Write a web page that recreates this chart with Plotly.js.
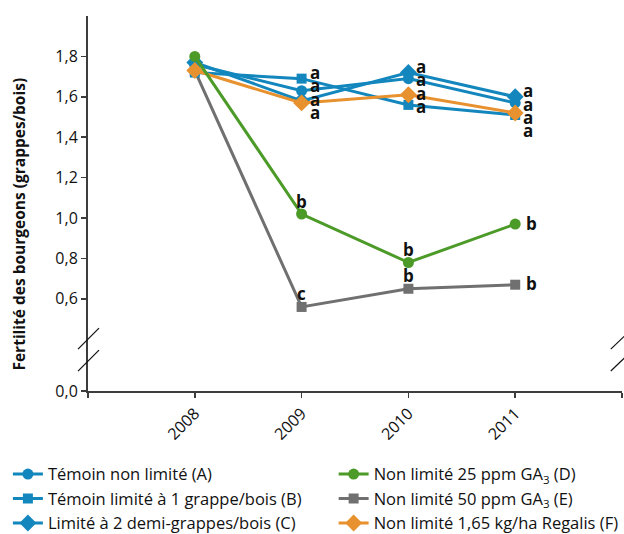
<!DOCTYPE html>
<html>
<head>
<meta charset="utf-8">
<script src="https://cdn.plot.ly/plotly-3.0.1.min.js"></script>
<style>html,body{margin:0;padding:0;background:#fff;}#chart{width:624px;height:534px;}</style>
</head>
<body>
<div id="chart"></div>
<script>
// ---- data ----
const years = [2008, 2009, 2010, 2011];
const seriesNames = [
  'Témoin non limité (A)',
  'Témoin limité à 1 grappe/bois (B)',
  'Limité à 2 demi-grappes/bois (C)',
  'Non limité 25 ppm GA<sub>3</sub> (D)',
  'Non limité 50 ppm GA<sub>3</sub> (E)',
  'Non limité 1,65 kg/ha Regalis (F)'
];
const valuesA = [1.76, 1.63, 1.69, 1.57];
const valuesB = [1.72, 1.69, 1.56, 1.51];
const valuesC = [1.77, 1.58, 1.72, 1.60];
const valuesD = [1.80, 1.02, 0.78, 0.97];
const valuesE = [1.73, 0.56, 0.65, 0.67];
const valuesF = [1.73, 1.57, 1.61, 1.52];
const lettersA = ['', 'a', 'a', 'a'];
const lettersB = ['', 'a', 'a', 'a'];
const lettersC = ['', 'a', 'a', 'a'];
const lettersD = ['', 'b', 'b', 'b'];
const lettersE = ['', 'c', 'b', 'b'];
const lettersF = ['', 'a', 'a', 'a'];
const xTickVals = [2007, 2008, 2009, 2010, 2011, 2012];
const xTickText = ['', '2008', '2009', '2010', '2011', ''];
const yTickText = ['0,0', '0,6', '0,8', '1,0', '1,2', '1,4', '1,6', '1,8'];
const yTickNums = [0.6, 0.8, 1.0, 1.2, 1.4, 1.6, 1.8];
const yTitle = 'Fertilité des bourgeons (grappes/bois)';

// ---- styles ----
const BLUE = '#1387bd', GREEN = '#4c9a28', GRAY = '#707070', ORANGE = '#e8912f';
const FONT = '"Open Sans", Lato, sans-serif';
const Y_BREAK_BOTTOM = 0.144; // axis bottom position shown as 0,0 (broken axis)

function mk(name, vals, color, symbol, size, legend, rank) {
  return {
    x: years, y: vals, name: name, type: 'scatter', mode: 'lines+markers',
    line: {color: color, width: 3},
    marker: {color: color, symbol: symbol, size: size},
    legend: legend, legendrank: rank, hoverinfo: 'skip'
  };
}
const tA = mk(seriesNames[0], valuesA, BLUE, 'circle', 11, 'legend', 1);
const tB = mk(seriesNames[1], valuesB, BLUE, 'square', 10, 'legend', 2);
const tC = mk(seriesNames[2], valuesC, BLUE, 'diamond', 13, 'legend', 3);
const tD = mk(seriesNames[3], valuesD, GREEN, 'circle', 11, 'legend2', 1);
const tE = mk(seriesNames[4], valuesE, GRAY, 'square', 10, 'legend2', 2);
const tF = mk(seriesNames[5], valuesF, ORANGE, 'diamond', 13, 'legend2', 3);
const traces = [tE, tB, tA, tC, tF, tD];

// ---- letter annotations ----
const annotations = [];
const groupVals = [valuesA, valuesB, valuesC, valuesF];
const groupLetters = [lettersA, lettersB, lettersC, lettersF];
const letterFont = {family: FONT, size: 17, weight: 700, color: '#111'};
years.forEach((yr, i) => {
  const letters = groupLetters.map(l => l[i]).filter(s => s);
  if (!letters.length) return;
  const top = Math.max(...groupVals.map(v => v[i]));
  letters.forEach((s, k) => {
    annotations.push({x: yr, y: top, xref: 'x', yref: 'y', text: s, showarrow: false,
      xanchor: 'center', yanchor: 'middle', xshift: 13, yshift: 6 - 13.3 * k, font: letterFont});
  });
});
[[valuesD, lettersD], [valuesE, lettersE]].forEach(([vals, lets]) => {
  years.forEach((yr, i) => {
    if (!lets[i]) return;
    const last = i === years.length - 1;
    annotations.push({x: yr, y: vals[i], xref: 'x', yref: 'y', text: lets[i], showarrow: false,
      xanchor: 'center', yanchor: 'middle', xshift: last ? 16 : 0, yshift: last ? 1 : 13, font: letterFont});
  });
});
annotations.push({xref: 'paper', yref: 'paper', x: -0.131, y: 0.444, text: yTitle, textangle: -90,
  showarrow: false, xanchor: 'center', yanchor: 'middle',
  font: {family: FONT, size: 15.5, weight: 700, color: '#111'}});

// ---- axis break marks ----
const brk = {color: '#111', width: 1.2};
const shapes = [
  {type: 'line', xref: 'paper', yref: 'paper', x0: -0.0187, y0: 0.1117, x1: 0.0206, y1: 0.1676, line: brk},
  {type: 'line', xref: 'paper', yref: 'paper', x0: -0.0187, y0: 0.0532, x1: 0.0206, y1: 0.109, line: brk},
  {type: 'line', xref: 'paper', yref: 'paper', x0: 0.979, y0: 0.1117, x1: 1.02, y1: 0.1676, line: brk},
  {type: 'line', xref: 'paper', yref: 'paper', x0: 0.979, y0: 0.0532, x1: 1.02, y1: 0.109, line: brk}
];

const axisCommon = {
  showline: true, linecolor: '#3d3d3d', linewidth: 2, showgrid: false, zeroline: false,
  ticks: 'outside', ticklen: 5, tickwidth: 1.5, tickcolor: '#3d3d3d', automargin: false,
  tickfont: {family: FONT, size: 16, color: '#111'}
};
const legendCommon = {y: -0.1755, xanchor: 'left', yanchor: 'top',
  orientation: 'v', font: {family: FONT, size: 16.5, color: '#111'}, bgcolor: 'rgba(0,0,0,0)', tracegroupgap: 0};
const layout = {
  width: 624, height: 534,
  margin: {l: 88, r: 2, t: 16, b: 143, autoexpand: false},
  paper_bgcolor: '#fff', plot_bgcolor: '#fff',
  showlegend: true,
  xaxis: Object.assign({}, axisCommon, {range: [2007, 2012], tickmode: 'array',
    tickvals: xTickVals, ticktext: xTickText, tickangle: -45}),
  yaxis: Object.assign({}, axisCommon, {range: [Y_BREAK_BOTTOM, 2.0], tickmode: 'array',
    tickvals: [Y_BREAK_BOTTOM].concat(yTickNums), ticktext: yTickText}),
  legend: Object.assign({}, legendCommon, {x: -0.15}),
  legend2: Object.assign({}, legendCommon, {x: 0.46}),
  annotations: annotations,
  shapes: shapes
};
Plotly.newPlot('chart', traces, layout, {displayModeBar: false, staticPlot: true});
</script>
</body>
</html>
